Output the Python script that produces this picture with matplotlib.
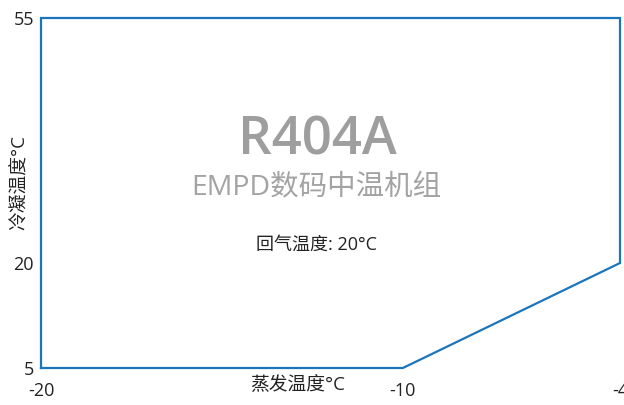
import matplotlib.pyplot as plt
import numpy as np

# operating envelope (evaporating temp, condensing temp)
evap_temp = [-20, -10, -4, -4, -20, -20]
cond_temp = [5, 5, 20, 55, 55, 5]
x_ticks = [-20, -10, -4]
y_ticks = [5, 20, 55]

plt.rcParams['font.family'] = ['Open Sans', 'Noto Sans CJK SC', 'DejaVu Sans']
plt.rcParams['axes.unicode_minus'] = False

fig = plt.figure(figsize=(6.24, 4.05), dpi=100)
ax = fig.add_axes([41/624, 1 - 368/405, (620 - 41)/624, (368 - 18)/405])
ax.plot(evap_temp, cond_temp, color='#1a75bc', lw=1.6, clip_on=False,
        solid_joinstyle='miter')
ax.set_xlim(-20, -4)
ax.set_ylim(5, 55)
ax.set_xticks(x_ticks)
ax.set_yticks(y_ticks)
ax.tick_params(length=0, labelsize=13, colors='#222222')
ax.tick_params(axis='x', pad=10)
ax.tick_params(axis='y', pad=5)
for s in ax.spines.values():
    s.set_visible(False)

fig.text(317/624, 1 - 141/405, "R404A", fontsize=38, fontweight='semibold',
         color='#9e9e9e', ha='center', va='center')
fig.text(316/624, 1 - 187/405, "EMPD数码中温机组", fontsize=20.5,
         fontweight='medium', color='#a3a3a3', ha='center', va='center')
fig.text(317/624, 1 - 245/405, "回气温度: 20°C", fontsize=13,
         color='#222222', ha='center', va='center')
fig.text(298/624, 1 - 385/405, "蒸发温度°C", fontsize=13.5,
         color='#222222', ha='center', va='center')
fig.text(20/624, 1 - 183/405, "冷凝温度°C", fontsize=13.5, rotation=90,
         color='#222222', ha='center', va='center')

fig.savefig('out.png', dpi=100)
